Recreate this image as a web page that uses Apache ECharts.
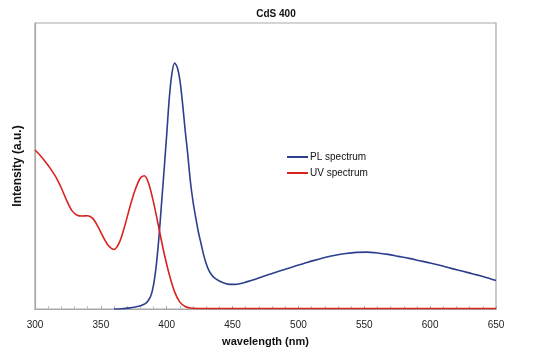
<!DOCTYPE html>
<html>
<head>
<meta charset="utf-8">
<script src="https://cdn.jsdelivr.net/npm/echarts@6/dist/echarts.min.js"></script>
<style>html,body{margin:0;padding:0;background:#fff}#c{width:552px;height:360px}</style>
</head>
<body>
<div id="c"></div>
<script>
var plWavelength = [360, 366, 372, 376, 380, 382, 384, 386, 388, 390, 392, 394, 396, 398, 400, 402, 404, 406, 408, 410, 412, 414, 416, 418, 420, 422, 424, 426, 428, 430, 432, 434, 436, 440, 444, 448, 452, 456, 460, 466, 472, 480, 488, 496, 504, 512, 520, 528, 536, 544, 552, 560, 568, 576, 584, 592, 600, 608, 616, 624, 632, 640, 650];
var plIntensity  = [0, 0.1, 0.4, 0.7, 1.1, 1.5, 2.0, 3.0, 4.6, 8.4, 15, 24.5, 36.5, 48.5, 61, 74, 82.5, 86, 84.5, 80, 72, 62.5, 54, 44.5, 37.5, 32, 27, 23, 19, 15.8, 13.5, 12, 11, 9.8, 9.0, 8.6, 8.6, 8.9, 9.4, 10.2, 11.2, 12.4, 13.6, 14.8, 15.9, 17.0, 18.0, 18.8, 19.4, 19.8, 19.9, 19.6, 19.1, 18.4, 17.7, 16.9, 16.1, 15.2, 14.2, 13.3, 12.3, 11.4, 10.0];
var uvWavelength = [300, 304, 308, 312, 316, 320, 324, 328, 332, 336, 340, 344, 348, 352, 356, 360, 364, 368, 372, 376, 380, 383, 386, 390, 394, 398, 402, 406, 410, 414, 418, 424, 450, 500, 550, 600, 650];
var uvIntensity  = [55.6, 53.7, 51.4, 48.9, 46, 42.3, 38, 34.4, 32.8, 32.5, 32.6, 31.6, 28.6, 25, 22, 20.8, 23.2, 28.8, 35.6, 41.6, 45.8, 46.6, 44.3, 37.3, 28.4, 19.5, 12, 6, 2.4, 0.9, 0.35, 0.2, 0.2, 0.2, 0.2, 0.2, 0.2];
var seriesNames = ['PL spectrum', 'UV spectrum'];
var xTicks = [300, 350, 400, 450, 500, 550, 600, 650];

function pairs(xs, ys) { return xs.map(function (x, i) { return [x, ys[i]]; }); }

var chart = echarts.init(document.getElementById('c'), null, { renderer: 'canvas' });
var font = '"Liberation Sans", Arial, Helvetica, sans-serif';
chart.setOption({
  animation: false,
  backgroundColor: '#ffffff',
  textStyle: { fontFamily: font },
  title: {
    text: 'CdS 400', left: 'center', top: 4,
    textStyle: { fontFamily: font, fontSize: 10, fontWeight: 'bold', color: '#111' }
  },
  legend: {
    orient: 'vertical', left: 282, top: 146,
    itemWidth: 21, itemHeight: 2, itemGap: 4, icon: 'rect',
    textStyle: { fontFamily: font, fontSize: 10, color: '#111', lineHeight: 12, padding: [0, 0, 0, -3] },
    data: seriesNames
  },
  grid: {
    left: 35, right: 56, top: 23, bottom: 51,
    show: true, borderColor: '#a8a8a8', borderWidth: 1.2, backgroundColor: '#fff'
  },
  xAxis: {
    type: 'value', min: xTicks[0], max: xTicks[xTicks.length - 1], interval: 50,
    name: 'wavelength (nm)', nameLocation: 'middle', nameGap: 27,
    nameTextStyle: { fontFamily: font, fontSize: 11, fontWeight: 'bold', color: '#111' },
    axisLine: { show: true, lineStyle: { color: '#a8a8a8', width: 1.2 } },
    axisTick: { show: true, inside: true, length: 3, lineStyle: { color: '#a8a8a8' } },
    minorTick: { show: true, splitNumber: 5, length: 3, lineStyle: { color: '#c0c0c0' } },
    axisLabel: { fontFamily: font, fontSize: 10, color: '#222', margin: 11 },
    splitLine: { show: false }
  },
  yAxis: {
    type: 'value', min: 0, max: 100,
    name: 'Intensity (a.u.)', nameLocation: 'middle', nameGap: 11, nameRotate: 90,
    nameTextStyle: { fontFamily: font, fontSize: 12, fontWeight: 'bold', color: '#111' },
    axisLine: { show: true, lineStyle: { color: '#a8a8a8', width: 1.2 } },
    axisTick: { show: false },
    axisLabel: { show: false },
    splitLine: { show: false }
  },
  series: [
    {
      name: seriesNames[0], type: 'line', data: pairs(plWavelength, plIntensity),
      smooth: 0.3, showSymbol: false, color: '#2b3f8c',
      lineStyle: { width: 1.6, color: '#2b3f8c' }
    },
    {
      name: seriesNames[1], type: 'line', data: pairs(uvWavelength, uvIntensity),
      smooth: 0.3, showSymbol: false, color: '#d8231f',
      lineStyle: { width: 1.6, color: '#d8231f' }
    }
  ]
});
</script>
</body>
</html>
